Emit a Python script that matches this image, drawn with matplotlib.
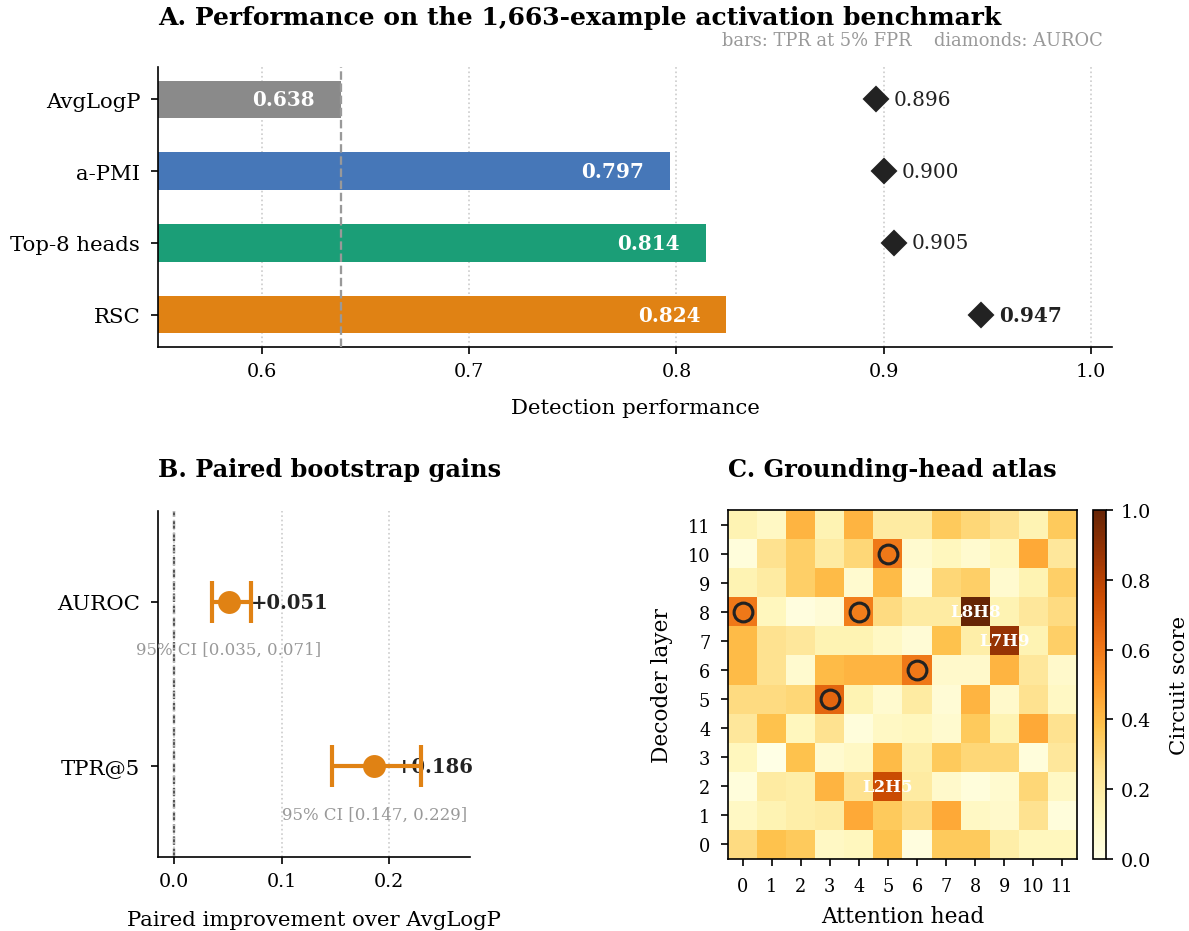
import matplotlib
matplotlib.use("Agg")
import matplotlib.pyplot as plt
import numpy as np

plt.rcParams['font.family'] = ['DejaVu Serif']

# Panel A data
methods = ['AvgLogP', 'a-PMI', 'Top-8 heads', 'RSC']
tpr5 = [0.638, 0.797, 0.814, 0.824]
auroc = [0.896, 0.900, 0.905, 0.947]
bar_colors = ['#8a8a8a', '#4677b8', '#1b9e77', '#e08214']

# Panel B data
metrics = ['AUROC', 'TPR@5']
gains = [0.051, 0.186]
ci_lo = [0.035, 0.147]
ci_hi = [0.071, 0.229]

# Panel C data (rows = layer 0..11, cols = head 0..11)
scores = np.array([
    [0.28, 0.38, 0.35, 0.10, 0.12, 0.38, 0.02, 0.35, 0.35, 0.18, 0.12, 0.12],  # L0
    [0.10, 0.15, 0.18, 0.20, 0.45, 0.35, 0.28, 0.45, 0.10, 0.08, 0.25, 0.03],  # L1
    [0.03, 0.20, 0.18, 0.42, 0.25, 0.75, 0.20, 0.08, 0.03, 0.07, 0.30, 0.10],  # L2
    [0.12, 0.00, 0.38, 0.07, 0.10, 0.40, 0.18, 0.35, 0.30, 0.30, 0.03, 0.22],  # L3
    [0.22, 0.38, 0.12, 0.25, 0.03, 0.10, 0.12, 0.07, 0.35, 0.15, 0.45, 0.25],  # L4
    [0.28, 0.28, 0.30, 0.66, 0.15, 0.07, 0.20, 0.05, 0.42, 0.08, 0.25, 0.10],  # L5
    [0.40, 0.25, 0.07, 0.40, 0.42, 0.42, 0.60, 0.08, 0.08, 0.42, 0.22, 0.08],  # L6
    [0.40, 0.25, 0.22, 0.15, 0.15, 0.10, 0.05, 0.38, 0.18, 0.88, 0.15, 0.33],  # L7
    [0.60, 0.12, 0.02, 0.05, 0.58, 0.28, 0.20, 0.20, 1.00, 0.15, 0.22, 0.28],  # L8
    [0.15, 0.20, 0.33, 0.40, 0.07, 0.40, 0.03, 0.30, 0.33, 0.07, 0.15, 0.33],  # L9
    [0.03, 0.25, 0.33, 0.20, 0.30, 0.60, 0.07, 0.12, 0.07, 0.12, 0.45, 0.22],  # L10
    [0.15, 0.10, 0.42, 0.15, 0.42, 0.20, 0.20, 0.35, 0.30, 0.25, 0.15, 0.35],  # L11
])
circled = [(10, 5), (8, 0), (8, 4), (6, 6), (5, 3)]  # (layer, head)
named = [(8, 8, 'L8H8'), (7, 9, 'L7H9'), (2, 5, 'L2H5')]

W, H = 1189, 932
fig = plt.figure(figsize=(W / 150, H / 150), dpi=150)


def box(l, t, r, b):
    return [l / W, 1 - b / H, (r - l) / W, (b - t) / H]


# ---- A. performance bars ----
axA = fig.add_axes(box(158, 68, 1112, 348))
y = np.arange(len(methods))
axA.barh(y, tpr5, height=0.52, color=bar_colors, zorder=2)
axA.set_xlim(0.55, 1.01)
axA.set_ylim(3.45, -0.45)
axA.set_yticks(y)
axA.set_yticklabels(methods, fontsize=10.2)
axA.set_xticks([0.6, 0.7, 0.8, 0.9, 1.0])
axA.tick_params(axis='x', labelsize=9.2)
axA.tick_params(axis='y', pad=5)
axA.grid(axis='x', linestyle=':', color='#cccccc', linewidth=0.8, zorder=0)
axA.axvline(tpr5[0], color='#999999', linestyle='--', linewidth=1.1, zorder=3)
for i in range(len(methods)):
    axA.text(tpr5[i] - 0.0125, i, f'{tpr5[i]:.3f}', ha='right', va='center',
             color='white', fontweight='bold', fontsize=9.6, zorder=4)
    axA.plot(auroc[i], i, marker='D', color='#222222', markersize=8, zorder=4)
    axA.text(auroc[i] + 0.0085, i, f'{auroc[i]:.3f}', ha='left', va='center',
             fontsize=9.6, color='#222222',
             fontweight='bold' if i == len(methods) - 1 else 'normal')
axA.set_xlabel('Detection performance', fontsize=10.2, labelpad=9)
for s in ['top', 'right']:
    axA.spines[s].set_visible(False)
fig.text(158 / W, 1 - 18 / H, 'A. Performance on the 1,663-example activation benchmark',
         fontsize=12, fontweight='bold', ha='left', va='center')
fig.text(1103 / W, 1 - 41 / H, 'bars: TPR at 5% FPR    diamonds: AUROC',
         fontsize=8.6, color='#999999', ha='right', va='center')

# ---- B. bootstrap gains ----
axB = fig.add_axes(box(158, 512, 470, 858))
yb = [1, 0]
axB.set_xlim(-0.015, 0.275)
axB.set_ylim(-0.55, 1.55)
axB.grid(axis='x', linestyle=':', color='#cccccc', linewidth=0.8, zorder=0)
axB.axvline(0, color='#555555', linestyle='--', linewidth=1.1, zorder=1)
for i in range(len(metrics)):
    err = [[gains[i] - ci_lo[i]], [ci_hi[i] - gains[i]]]
    axB.errorbar(gains[i], yb[i], xerr=err, fmt='o', color='#e08214',
                 markersize=10, elinewidth=2, capsize=10, capthick=2, zorder=4)
    axB.text(gains[i] + 0.02, yb[i], f'+{gains[i]:.3f}', ha='left', va='center',
             fontweight='bold', fontsize=9.4, color='#222222', zorder=3)
    axB.text(gains[i], yb[i] - 0.29, f'95% CI [{ci_lo[i]:.3f}, {ci_hi[i]:.3f}]',
             ha='center', va='center', fontsize=8, color='#999999')
axB.set_yticks(yb)
axB.set_yticklabels(metrics, fontsize=10.2)
axB.set_xticks([0.0, 0.1, 0.2])
axB.tick_params(axis='x', labelsize=9.2)
axB.tick_params(axis='y', pad=5)
axB.set_xlabel('Paired improvement over AvgLogP', fontsize=10.2, labelpad=10)
for s in ['top', 'right']:
    axB.spines[s].set_visible(False)
fig.text(158 / W, 1 - 470 / H, 'B. Paired bootstrap gains',
         fontsize=11.5, fontweight='bold', ha='left', va='center')

# ---- C. head atlas ----
axC = fig.add_axes(box(728, 511, 1077, 860))
im = axC.imshow(scores, cmap='YlOrBr', vmin=0, vmax=1, origin='lower', aspect='auto')
for (l, h) in circled:
    axC.plot(h, l, marker='o', markersize=9, markerfacecolor='none',
             markeredgecolor='#222222', markeredgewidth=1.5)
for (l, h, name) in named:
    axC.text(h, l, name, ha='center', va='center', color='white',
             fontweight='bold', fontsize=8)
axC.set_xticks(range(12))
axC.set_yticks(range(12))
axC.tick_params(labelsize=8.5, pad=5)
axC.set_xlabel('Attention head', fontsize=10.4, labelpad=5)
axC.set_ylabel('Decoder layer', fontsize=10.4, labelpad=7)
fig.text(728 / W, 1 - 470 / H, 'C. Grounding-head atlas',
         fontsize=11.5, fontweight='bold', ha='left', va='center')

cax = fig.add_axes(box(1093, 511, 1106, 860))
cb = fig.colorbar(im, cax=cax)
cb.set_ticks([0.0, 0.2, 0.4, 0.6, 0.8, 1.0])
cb.ax.tick_params(labelsize=9.2)
cb.set_label('Circuit score', fontsize=10.2, labelpad=9)

fig.savefig('out.png', dpi=150)
